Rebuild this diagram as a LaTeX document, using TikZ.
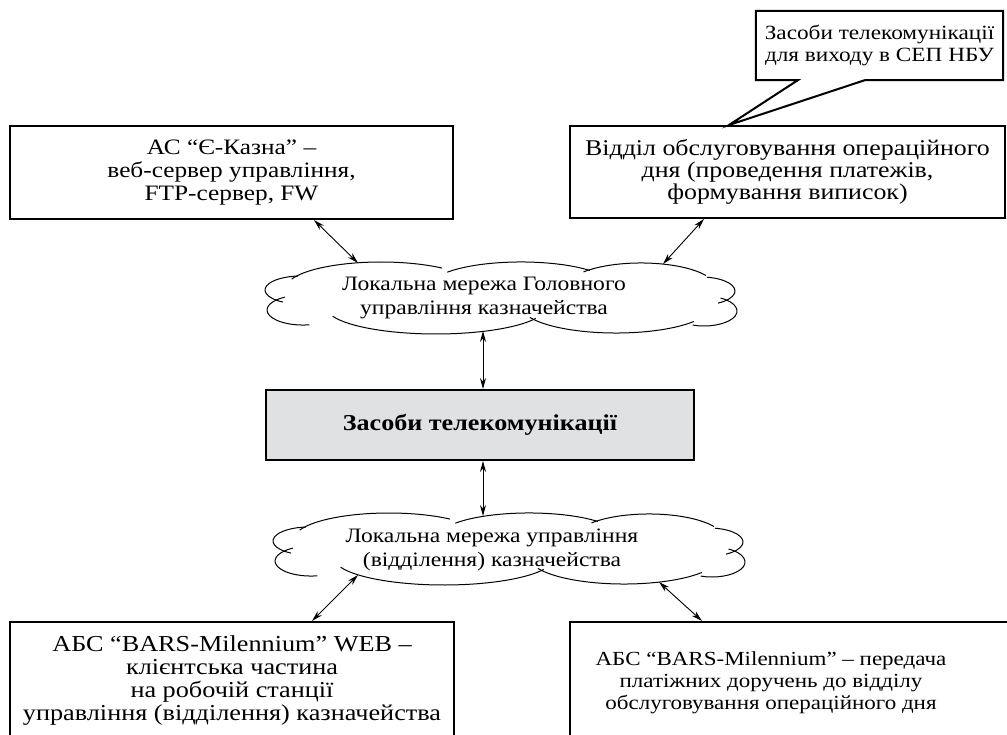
\documentclass[tikz,border=0pt]{standalone}
\usepackage{fontspec}
\setmainfont{Liberation Serif}[FakeStretch=1.15]
\usepackage{tikz}
\usetikzlibrary{calc,arrows.meta,positioning,shapes}

\definecolor{boxgray}{RGB}{224,225,227}

\begin{document}
\begin{tikzpicture}[x=1pt,y=-1pt,
	block/.style={rectangle,draw,line width=2pt,inner sep=0pt,align=center,font=\fontsize{22}{23}\selectfont},
	main/.style={block,fill=boxgray,font=\bfseries\fontsize{22.7}{26}\selectfont},
	net/.style={rectangle,inner sep=0pt,align=center,font=\fontsize{20.5}{24}\selectfont},
	note/.style={rectangle,inner sep=0pt,align=center,font=\fontsize{20.2}{22}\selectfont},
	link/.style={{Stealth[length=11pt,width=6pt]}-{Stealth[length=11pt,width=6pt]},line width=0.9pt},
	netcloud/.pic={
		\draw[line width=1pt] (-209.3,-18.9) arc[start angle=200,end angle=310,x radius=95,y radius=26];
		\draw[line width=1pt] (-53.7,-25.8) arc[start angle=215,end angle=320,x radius=90,y radius=24];
		\draw[line width=1pt] (82.5,-26.1) arc[start angle=220,end angle=330,x radius=75,y radius=25];
		\draw[line width=1pt] (205.9,-20.8) arc[start angle=280,end angle=420,x radius=34,y radius=14];
		\draw[line width=1pt] (219.5,0) arc[start angle=300,end angle=470,x radius=33,y radius=15];
		\draw[line width=1pt] (192.8,23.5) arc[start angle=35,end angle=155,x radius=95,y radius=27];
		\draw[line width=1pt] (34.7,20.4) arc[start angle=25,end angle=160,x radius=110,y radius=27];
		\draw[line width=1pt] (-191.7,26.8) arc[start angle=80,end angle=240,x radius=36,y radius=15];
		\draw[line width=1pt] (-218,4.1) arc[start angle=120,end angle=265,x radius=36,y radius=14];
	}
	]
\useasboundingbox (0,0) rectangle (1007,734);
\clip (0,0) rectangle (1007,734);

\node[block,minimum width=443pt,minimum height=93pt](b1) at (231.5,172.5) {АС “Є-Казна” –\\веб-сервер управління,\\FTP-сервер, FW};
\node[block,minimum width=435pt,minimum height=92pt,font=\fontsize{22.5}{22}\selectfont](b2) at (787.5,172) {Відділ обслуговування операційного\\дня (проведення платежів,\\формування виписок)};

% speech bubble pointing down to b2
\node[note,minimum width=247pt,minimum height=69pt](tel) at (879.5,45.5) {Засоби телекомунікації\\для виходу в СЕП НБУ};
\draw[line width=2pt] (tel.north west) -- (tel.north east) -- (tel.south east)
	-- ($(tel.south west)+(109,0)$) -- ($(b2.north west)+(160,0)$)
	-- ($(tel.south west)+(42,0)$) -- (tel.south west) -- cycle;

\node[net](net1) at (484,298) {Локальна мережа Головного\\управління казначейства};
\pic at ($(net1.center)+(17,0)$) {netcloud};

\node[main,minimum width=428pt,minimum height=70pt](cb) at (480,425) {Засоби телекомунікації};

\node[net](net2) at (492,550) {Локальна мережа управління\\(відділення) казначейства};
\pic at ($(net2.center)+(17,-1)$) {netcloud};

\node[block,minimum width=444pt,minimum height=118pt,font=\fontsize{22.8}{23}\selectfont](b3) at (232,681) {АБС “BARS-Milennium” WEB –\\клієнтська частина\\на робочій станції\\управління (відділення) казначейства};
\node[block,minimum width=442pt,minimum height=118pt](b4) at (791,681) {};
\node[font=\fontsize{20}{22}\selectfont,align=center](b4text) at (771,683) {АБС “BARS-Milennium” – передача\\платіжних доручень до відділу\\обслуговування операційного дня};

\draw[link]($(b1.south west)+(305,0)$) -- ($(net1.center)+(-126,-35)$);
\draw[link]($(b2.south west)+(135,0)$) -- ($(net1.center)+(179,-34)$);
\draw[link]($(cb.north)+(3,0)$) -- ($(net1.center)+(-1,33)$);
\draw[link]($(cb.south)+(3,0)$) -- ($(net2.center)+(-9,-34)$);
\draw[link]($(net2.center)+(-134,25)$) -- ($(b3.north west)+(303,0)$);
\draw[link]($(net2.center)+(167,32)$) -- ($(b4.north west)+(133,0)$);
\end{tikzpicture}
\end{document}
